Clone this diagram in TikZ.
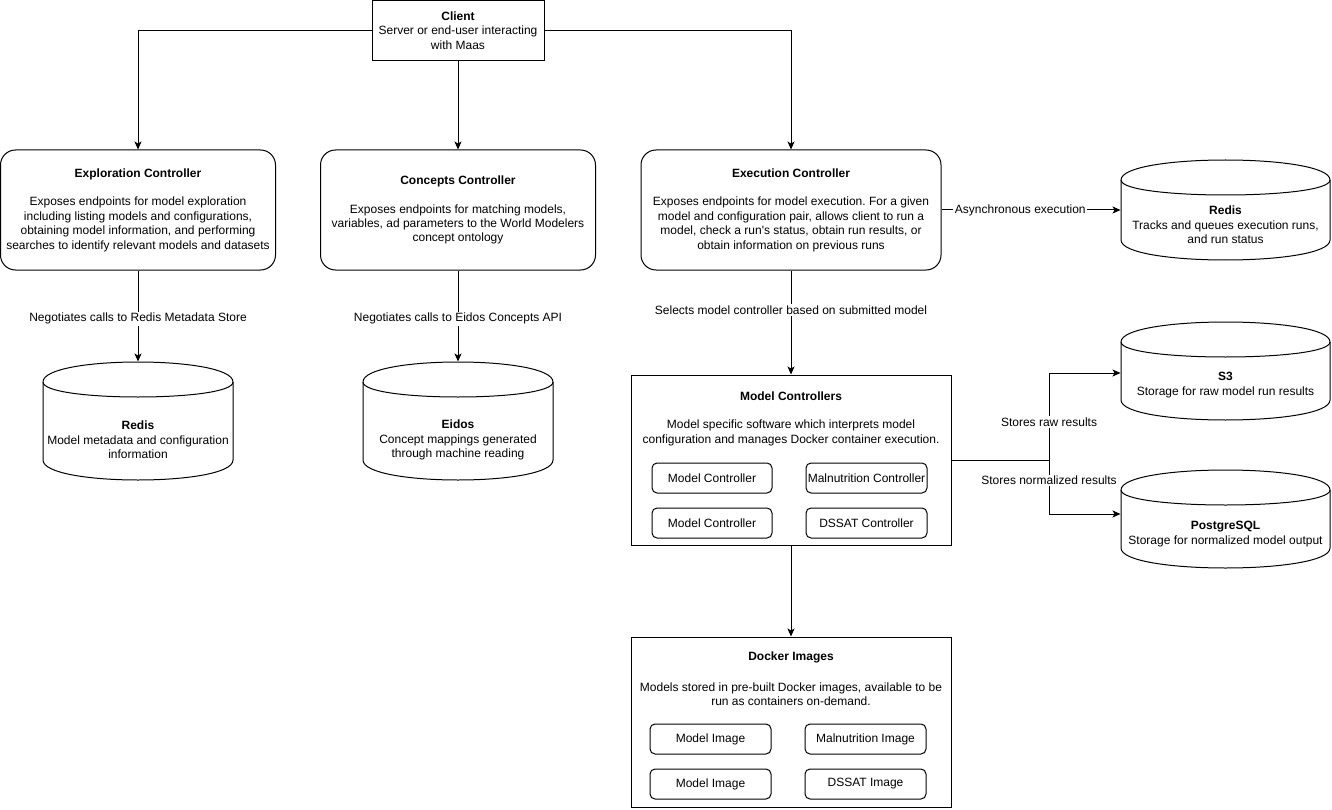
\documentclass[tikz,border=0pt]{standalone}
\usepackage{fontspec}
\setmainfont{Liberation Sans}[Ligatures=TeXOff]
\usetikzlibrary{arrows.meta,calc}
\frenchspacing
\newcommand\dbcyl[7]{%
  \node[inner sep=0pt, minimum width={#4-#2}, minimum height={#5-#3}] (#1) at ({(#2+#4)/2},{(#3+#5)/2}) {};
  \draw[fill=white] (#2,#3+20) .. controls (#2,#3-20/3) and (#4,#3-20/3) .. (#4,#3+20) -- (#4,#5-20) .. controls (#4,#5+20/3) and (#2,#5+20/3) .. (#2,#5-20) -- cycle;
  \draw (#2,#3+20) .. controls (#2,#3+40) and (#4,#3+40) .. (#4,#3+20);
  \node[align=center, inner sep=0pt] (#1text) at ({(#2+#4)/2},#6) {#7};
}
\begin{document}
\begin{tikzpicture}[x=1pt,y=-1pt, line width=1pt,
  every node/.style={font=\fontsize{12}{14.4}\selectfont},
  bigbox/.style={draw, rounded corners=15pt, align=center, inner sep=0pt},
  plainbox/.style={draw, align=center, inner sep=0pt},
  smallbox/.style={draw, rounded corners=5pt, align=center, inner sep=0pt, minimum height=30pt},
  arr/.style={-{Stealth[length=8pt,width=7pt,inset=2pt]}},
  lbl/.style={fill=white, inner sep=1.5pt}]
\useasboundingbox (0,0) rectangle (1332,810);

% Client
\node[plainbox, minimum width=172pt, minimum height=60pt] (client) at (458,30.5)
  {\textbf{Client}\\Server or end-user interacting\\with Maas};

% Controllers
\node[bigbox, minimum width=275pt, minimum height=120pt] (expl) at (138,210)
  {\textbf{Exploration Controller}\\[14.4pt]Exposes endpoints for model exploration\\including listing models and configurations,\\obtaining model information, and performing\\searches to identify relevant models and datasets};
\node[bigbox, minimum width=275pt, minimum height=120pt] (concepts) at (458,210)
  {\textbf{Concepts Controller}\\[14.4pt]Exposes endpoints for matching models,\\variables, ad parameters to the World Modelers\\concept ontology};
\node[bigbox, minimum width=300pt, minimum height=120pt] (exec) at (791,210)
  {\textbf{Execution Controller}\\[14.4pt]Exposes endpoints for model execution. For a given\\model and configuration pair, allows client to run a\\model, check a run's status, obtain run results, or\\obtain information on previous runs};

% Databases
\dbcyl{redisB}{1121}{160}{1330}{260}{225}{\textbf{Redis}\\Tracks and queues execution runs,\\and run status}
\dbcyl{redisA}{43}{362}{233}{480}{440}{\textbf{Redis}\\Model metadata and configuration\\information}
\dbcyl{eidos}{363}{362}{553}{480}{440}{\textbf{Eidos}\\Concept mappings generated\\through machine reading}
\dbcyl{s3}{1121}{322}{1330}{420}{385}{\textbf{S3}\\Storage for raw model run results}
\dbcyl{pg}{1121}{470}{1330}{568}{534}{\textbf{PostgreSQL}\\Storage for normalized model output}

% Model Controllers
\node[plainbox, minimum width=320pt, minimum height=170pt] (mc) at (791,460) {};
\node[inner sep=0pt] (mctitle) at (791,396) {\textbf{Model Controllers}};
\node[align=center, inner sep=0pt] (mcbody) at (791,433) {Model specific software which interprets model\\configuration and manages Docker container execution.};
\node[smallbox, minimum width=120pt] (mc1) at (712,478) {Model Controller};
\node[smallbox, minimum width=121pt] (mc2) at (866.5,478) {Malnutrition Controller};
\node[smallbox, minimum width=120pt] (mc3) at (712,523) {Model Controller};
\node[smallbox, minimum width=121pt] (mc4) at (866.5,523) {DSSAT Controller};

% Docker Images
\node[plainbox, minimum width=320pt, minimum height=170pt] (docker) at (791,722) {};
\node[inner sep=0pt] (dktitle) at (791,657) {\textbf{Docker Images}};
\node[align=center, inner sep=0pt] (dkbody) at (791,694) {Models stored in pre-built Docker images, available to be\\run as containers on-demand.};
\node[smallbox, minimum width=121pt] (dk1) at (710.5,739) {Model Image};
\node[smallbox, minimum width=121pt] (dk2) at (865.5,739) {Malnutrition Image};
\node[smallbox, minimum width=121pt] (dk3) at (710.5,784) {Model Image};
\node[smallbox, minimum width=121pt] (dk4) at (865.5,784) {DSSAT Image};

% Connectors
\draw[arr] (client.west) -| (expl.north);
\draw[arr] (client.south) -- (concepts.north);
\draw[arr] (client.east) -| (exec.north);
\draw[arr] (expl.south) -- node[lbl, pos=0.53] {Negotiates calls to Redis Metadata Store} (expl.south |- redisA.north);
\draw[arr] (concepts.south) -- node[lbl, pos=0.53] {Negotiates calls to Eidos Concepts API} (concepts.south |- eidos.north);
\draw[arr] (exec.south) -- node[lbl, pos=0.38] {Selects model controller based on submitted model} (mc.north);
\draw[arr] (exec.east) -- node[lbl, pos=0.44] {Asynchronous execution} (redisB.west);
\coordinate (split) at (1049,460);
\draw (mc.east) -- (split);
\draw[arr] (split) |- node[lbl, pos=0.22] {Stores raw results} ([yshift=-2pt]s3.west);
\draw[arr] (split) |- node[lbl, pos=0.19] {Stores normalized results} ([yshift=5pt]pg.west);
\draw[arr] (mc.south) -- (docker.north);
\end{tikzpicture}
\end{document}
